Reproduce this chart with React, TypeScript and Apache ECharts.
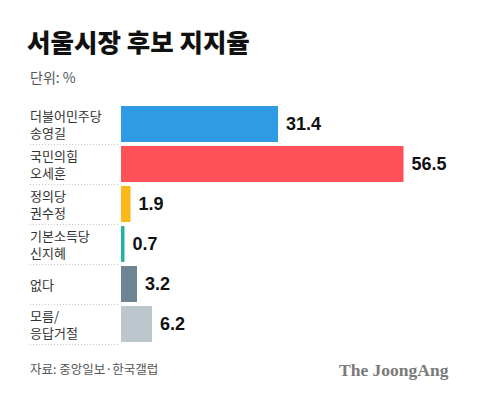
import React, { useEffect, useRef } from "react";
import * as echarts from "echarts";

const categories = ["더불어민주당\n송영길", "국민의힘\n오세훈", "정의당\n권수정", "기본소득당\n신지혜", "없다", "모름/\n응답거절"];
const values = [31.4, 56.5, 1.9, 0.7, 3.2, 6.2];
const colors = ["#2f9be4", "#ff5157", "#fbb71b", "#20b39d", "#6f8594", "#bcc6cd"];
const title = "서울시장 후보 지지율";
const unit = "단위: %";
const source = "자료: 중앙일보·한국갤럽";
const brand = "The JoongAng";

const KR = "'Noto Sans CJK KR', 'Noto Sans', sans-serif";

export default function App() {
  const ref = useRef<HTMLDivElement>(null);
  useEffect(() => {
    document.body.style.margin = "0";
    const chart = echarts.init(ref.current!, null, { renderer: "svg" });
    chart.setOption({
      animation: false,
      backgroundColor: "#ffffff",
      grid: [
        { left: 121, top: 104, width: 300, height: 240 },
        { left: 30, top: 104, width: 88, height: 240 },
      ],
      xAxis: [
        { type: "value", gridIndex: 0, min: 0, max: 60, show: false },
        { type: "value", gridIndex: 1, min: 0, max: 1, show: false },
      ],
      yAxis: [
        {
          type: "category",
          gridIndex: 0,
          inverse: true,
          data: categories,
          axisLine: { show: false },
          axisTick: { show: false },
          splitLine: { show: false },
          axisLabel: {
            align: "left",
            margin: 91,
            fontSize: 13,
            lineHeight: 17.5,
            color: "#333333",
            fontFamily: KR,
          },
        },
        {
          type: "value",
          gridIndex: 1,
          min: 0,
          max: 6,
          interval: 1,
          axisLine: { show: false },
          axisTick: { show: false },
          axisLabel: { show: false },
          splitLine: {
            show: true,
            showMaxLine: false,
            showMinLine: true,
            lineStyle: { type: [1, 2], color: "#c8c8c8", width: 1 },
          },
        },
      ],
      series: [
        {
          type: "bar",
          xAxisIndex: 0,
          yAxisIndex: 0,
          barCategoryGap: "10%",
          data: values.map((v, i) => ({ value: v, itemStyle: { color: colors[i] } })),
          label: {
            show: true,
            position: "right",
            distance: 8,
            formatter: (p: any) => Number(p.value).toFixed(1),
            fontSize: 18,
            fontWeight: "bold",
            color: "#111111",
            fontFamily: "'Liberation Sans', Arial, sans-serif",
          },
        },
      ],
      graphic: [
        {
          type: "text",
          left: 27,
          top: 28,
          style: {
            text: title,
            fontSize: 25.5,
            fontWeight: 900,
            fill: "#111111",
            fontFamily: KR,
          },
        },
        {
          type: "text",
          left: 30,
          top: 70,
          style: { text: unit, fontSize: 14, fill: "#555555", fontFamily: KR },
        },
        {
          type: "text",
          left: 30,
          top: 362,
          style: { text: source, fontSize: 12.5, fill: "#555555", fontFamily: KR },
        },
        {
          type: "text",
          left: 339,
          top: 361,
          style: {
            text: brand,
            fontSize: 17.5,
            fontWeight: "bold",
            fill: "#7a7a7a",
            fontFamily: "'Liberation Serif', 'DejaVu Serif', serif",
          },
        },
      ],
    });
    return () => chart.dispose();
  }, []);
  return <div ref={ref} style={{ width: 480, height: 399 }} />;
}
